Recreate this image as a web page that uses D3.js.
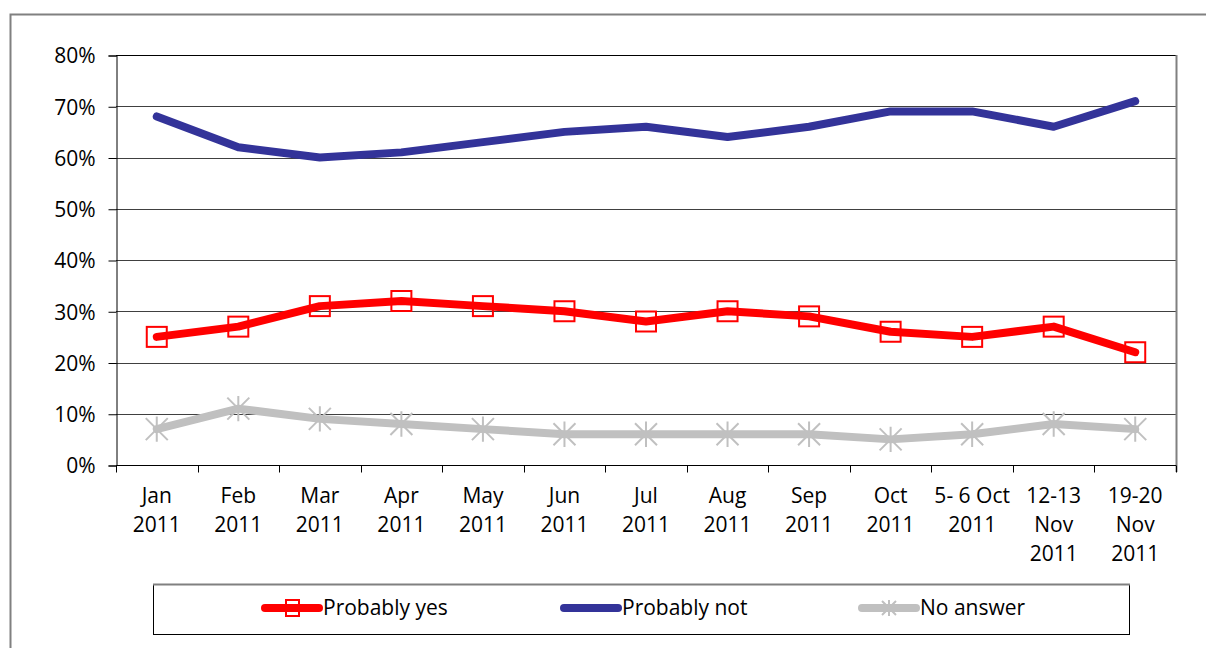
<!DOCTYPE html>
<html>
<head>
<meta charset="utf-8"/>
<script src="https://d3js.org/d3.v7.min.js"></script>
<style>
  body { margin: 0; background: #fff; }
  text { font-family: "Open Sans", sans-serif; fill: #000; }
</style>
</head>
<body>
<svg id="chart" width="1206" height="648"></svg>
<script>
// data
var categories = [
  ["Jan", "2011"], ["Feb", "2011"], ["Mar", "2011"], ["Apr", "2011"],
  ["May", "2011"], ["Jun", "2011"], ["Jul", "2011"], ["Aug", "2011"],
  ["Sep", "2011"], ["Oct", "2011"], ["5- 6 Oct", "2011"],
  ["12-13", "Nov", "2011"], ["19-20", "Nov", "2011"]
];
var probablyYes = [25, 27, 31, 32, 31, 30, 28, 30, 29, 26, 25, 27, 22];
var probablyNot = [68, 62, 60, 61, 63, 65, 66, 64, 66, 69, 69, 66, 71];
var noAnswer    = [7, 11, 9, 8, 7, 6, 6, 6, 6, 5, 6, 8, 7];
var yTicks = [0, 10, 20, 30, 40, 50, 60, 70, 80];

var series = [
  { name: "Probably yes", values: probablyYes, color: "#ff0000", marker: "square" },
  { name: "Probably not", values: probablyNot, color: "#333399", marker: "none" },
  { name: "No answer",    values: noAnswer,    color: "#c0c0c0", marker: "star" }
];

var fontSize = "21px";
var svg = d3.select("#chart");
var plot = { left: 116, top: 55, right: 1176, bottom: 465 };

// outer frame (runs off the right edge)
svg.append("path")
  .attr("d", "M10.5,660 V14.5 H1220")
  .attr("fill", "none").attr("stroke", "#808080").attr("stroke-width", 2);

var x = d3.scaleBand().domain(d3.range(categories.length))
  .range([plot.left, plot.right]);
var y = d3.scaleLinear().domain([0, 80]).range([plot.bottom, plot.top]);

// gridlines
svg.append("g").selectAll("line").data(yTicks.filter(d => d > 0))
  .join("line")
  .attr("x1", plot.left).attr("x2", plot.right)
  .attr("y1", d => Math.round(y(d)) + 0.5).attr("y2", d => Math.round(y(d)) + 0.5)
  .attr("stroke", d => d === 80 ? "#000" : "#404040").attr("stroke-width", 1);

// right border
svg.append("line")
  .attr("x1", plot.right + 0.5).attr("x2", plot.right + 0.5)
  .attr("y1", plot.top).attr("y2", plot.bottom + 7)
  .attr("stroke", "#808080").attr("stroke-width", 2);

// y axis
var yAxis = svg.append("g")
  .attr("transform", "translate(" + (plot.left + 0.5) + ",0.5)")
  .call(d3.axisLeft(y).tickValues(yTicks).tickSize(8).tickPadding(13)
    .tickFormat(d => d + "%"));
yAxis.select(".domain").attr("stroke", "#000");
yAxis.selectAll(".tick line").attr("stroke", "#000");
yAxis.selectAll("text").style("font-size", fontSize).attr("dy", "0.35em");

// x axis
var xAxis = svg.append("g")
  .attr("transform", "translate(0," + (plot.bottom + 0.5) + ")");
xAxis.append("line")
  .attr("x1", plot.left).attr("x2", plot.right)
  .attr("stroke", "#000");
xAxis.selectAll(".xt").data(d3.range(categories.length + 1))
  .join("line").attr("class", "xt")
  .attr("x1", i => Math.round(plot.left + i * x.step()) + 0.5)
  .attr("x2", i => Math.round(plot.left + i * x.step()) + 0.5)
  .attr("y1", 0).attr("y2", 7)
  .attr("stroke", "#000");
var xl = xAxis.selectAll(".xl").data(categories)
  .join("text").attr("class", "xl")
  .attr("text-anchor", "middle")
  .style("font-size", fontSize)
  .attr("transform", (d, i) => "translate(" + (x(i) + x.bandwidth() / 2) + ",37)");
xl.selectAll("tspan").data(d => d).join("tspan")
  .attr("x", 0).attr("y", (d, i) => i * 29)
  .text(d => d);

// lines
var line = d3.line()
  .x((d, i) => x(i) + x.bandwidth() / 2)
  .y(d => y(d));

function drawMarker(g, type, color, cx, cy, s) {
  if (type === "square") {
    g.append("rect")
      .attr("x", cx - s / 2).attr("y", cy - s / 2)
      .attr("width", s).attr("height", s)
      .attr("fill", "none").attr("stroke", color).attr("stroke-width", 2);
  } else if (type === "star") {
    var r = s / 2;
    var p = "M" + (cx - r) + "," + (cy - r) + "L" + (cx + r) + "," + (cy + r) +
            "M" + (cx - r) + "," + (cy + r) + "L" + (cx + r) + "," + (cy - r) +
            "M" + cx + "," + (cy - r * 1.15) + "L" + cx + "," + (cy + r * 1.15);
    g.append("path").attr("d", p)
      .attr("stroke", color).attr("stroke-width", 2).attr("fill", "none");
  }
}

series.slice().reverse().forEach(function(s) {
  var g = svg.append("g");
  g.append("path")
    .datum(s.values)
    .attr("d", line)
    .attr("fill", "none")
    .attr("stroke", s.color)
    .attr("stroke-width", 8)
    .attr("stroke-linecap", "round")
    .attr("stroke-linejoin", "round");
  s.values.forEach(function(v, i) {
    drawMarker(g, s.marker, s.color, x(i) + x.bandwidth() / 2, y(v), s.marker === "star" ? 22 : 20);
  });
});

// legend
svg.append("rect")
  .attr("x", 153.5).attr("y", 584.5).attr("width", 976).attr("height", 50)
  .attr("fill", "none").attr("stroke", "#000").attr("stroke-width", 1);
svg.append("line").attr("x1", 153).attr("x2", 1130).attr("y1", 584.5).attr("y2", 584.5)
  .attr("stroke", "#808080").attr("stroke-width", 2);

var legendX = [265, 564, 862];
series.forEach(function(s, i) {
  var g = svg.append("g").attr("transform", "translate(" + legendX[i] + ",608)");
  g.append("line").attr("x1", 0).attr("x2", 54)
    .attr("stroke", s.color).attr("stroke-width", 8).attr("stroke-linecap", "round");
  if (s.marker === "square") {
    g.append("rect").attr("x", 21).attr("y", -8).attr("width", 13).attr("height", 16)
      .attr("fill", "none").attr("stroke", s.color).attr("stroke-width", 2);
  } else if (s.marker === "star") {
    drawMarker(g, "star", s.color, 27, 0, 14);
  }
  g.append("text").attr("x", 58).attr("y", 0).attr("dy", "0.35em")
    .style("font-size", fontSize).text(s.name);
});
</script>
</body>
</html>
